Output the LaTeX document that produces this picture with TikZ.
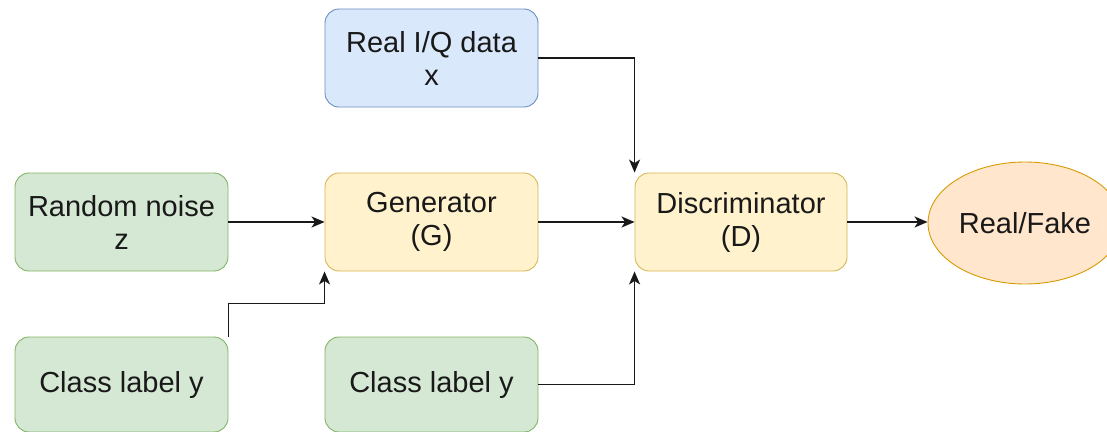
\documentclass[tikz,border=0pt]{standalone}
\usepackage{fontspec}
\setmainfont{Liberation Sans}
\usetikzlibrary{arrows.meta,shapes.geometric}
\definecolor{bluefill}{HTML}{DAE8FC}
\definecolor{bluedraw}{HTML}{6C8EBF}
\definecolor{greenfill}{HTML}{D5E8D4}
\definecolor{greendraw}{HTML}{82B366}
\definecolor{yellowfill}{HTML}{FFF2CC}
\definecolor{yellowdraw}{HTML}{D6B656}
\definecolor{orangefill}{HTML}{FFE6CC}
\definecolor{orangedraw}{HTML}{D79B00}
\begin{document}
\begin{tikzpicture}[x=1pt,y=-1pt,
  box/.style={rectangle, rounded corners=14pt, line width=0.9pt,
    minimum width=213pt, minimum height=98pt, inner sep=0pt, align=center,
    font=\fontsize{29}{33}\selectfont, text=black!90},
  bluebox/.style={box, fill=bluefill, draw=bluedraw},
  greenbox/.style={box, fill=greenfill, draw=greendraw},
  yellowbox/.style={box, fill=yellowfill, draw=yellowdraw},
  outnode/.style={ellipse, fill=orangefill, draw=orangedraw, line width=0.9pt,
    minimum width=194pt, minimum height=122pt, inner sep=0pt,
    font=\fontsize{29}{33}\selectfont, text=black!90},
  conn/.style={line width=1.6pt, draw=black!90,
    -{Stealth[length=13pt,width=11pt,inset=3.5pt]}}]
\useasboundingbox (0,0) rectangle (1107,431);
\node[bluebox] (real) at (431.5,58) {Real I/Q data\\x};
\node[greenbox] (noise) at (121.5,222) {Random noise\\z};
\node[yellowbox] (gen) at (431.5,222) {Generator\\(G)};
\node[yellowbox, minimum width=212pt] (disc) at (741,222) {Discriminator\\(D)};
\node[outnode] (out) at (1025,223) {Real/Fake};
\node[greenbox, minimum height=95pt] (cls1) at (121.5,384.5) {Class label y};
\node[greenbox, minimum height=95pt] (cls2) at (431.5,384.5) {Class label y};
\draw[conn] (noise.east) -- (gen.west);
\draw[conn] (gen.east) -- (disc.west);
\draw[conn] (disc.east) -- (out.west |- disc.east);
\draw[conn] (real.east) -| (disc.north west);
\draw[conn] (cls1.north east) -- ++(0,-33) -| (gen.south west);
\draw[conn] (cls2.east) -| (disc.south west);
\end{tikzpicture}
\end{document}
